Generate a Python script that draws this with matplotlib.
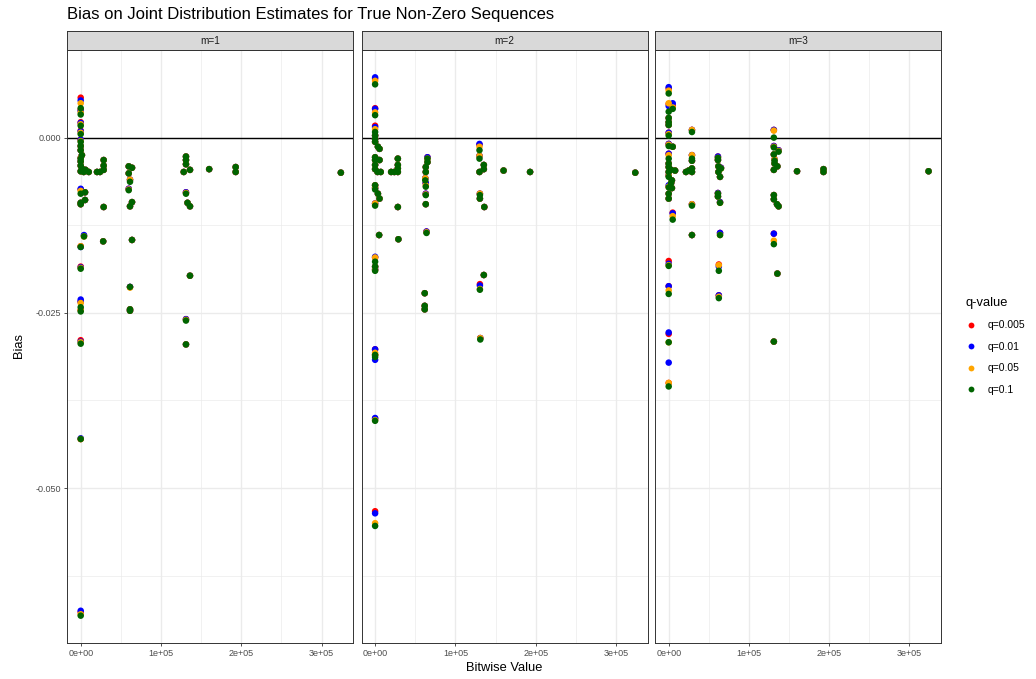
import numpy as np
import matplotlib.pyplot as plt
from matplotlib.lines import Line2D

plt.rcParams['font.family'] = ['Liberation Sans', 'DejaVu Sans']

title = 'Bias on Joint Distribution Estimates for True Non-Zero Sequences'
panels = ['m=1', 'm=2', 'm=3']
q_labels = ['q=0.005', 'q=0.01', 'q=0.05', 'q=0.1']
q_colors = ['red', 'blue', 'orange', 'darkgreen']

x_ticks = [0, 100000, 200000, 300000]
x_ticklabels = ['0e+00', '1e+05', '2e+05', '3e+05']
y_ticks = [0.0, -0.025, -0.05]
y_ticklabels = ['0.000', '-0.025', '-0.050']

# rows: (bitwise value, bias q=0.005, q=0.01, q=0.05, q=0.1)
m1_rows = [
    (0, 0.0057, 0.0053, 0.0049, 0.0042),
    (0, 0.0040, 0.0038, 0.0036, 0.0033),
    (0, 0.0022, 0.0021, 0.0019, 0.0017),
    (0, 0.0010, 0.0009, 0.0007, 0.0005),
    (0, -0.0003, -0.0003, -0.0005, -0.0006),
    (0, -0.0012, -0.0012, -0.0012, -0.0012),
    (0, -0.0018, -0.0018, -0.0018, -0.0018),
    (1500, -0.0025, -0.0025, -0.0025, -0.0025),
    (0, -0.0029, -0.0029, -0.0029, -0.0030),
    (0, -0.0034, -0.0034, -0.0034, -0.0034),
    (0, -0.0040, -0.0040, -0.0040, -0.0040),
    (1500, -0.0044, -0.0044, -0.0044, -0.0044),
    (0, -0.0048, -0.0048, -0.0048, -0.0048),
    (3700, -0.0049, -0.0049, -0.0049, -0.0049),
    (10000, -0.0049, -0.0049, -0.0049, -0.0049),
    (6000, -0.0046, -0.0046, -0.0046, -0.0046),
    (0, -0.0074, -0.0073, -0.0076, -0.0080),
    (5400, -0.0078, -0.0078, -0.0078, -0.0078),
    (5400, -0.0089, -0.0089, -0.0089, -0.0089),
    (0, -0.0093, -0.0093, -0.0093, -0.0093),
    (0, -0.0095, -0.0095, -0.0095, -0.0095),
    (4100, -0.0140, -0.0139, -0.0141, -0.0141),
    (0, -0.0155, -0.0156, -0.0155, -0.0156),
    (0, -0.0184, -0.0185, -0.0186, -0.0187),
    (0, -0.0234, -0.0231, -0.0236, -0.0242),
    (0, -0.0246, -0.0234, -0.0246, -0.0248),
    (0, -0.0289, -0.0291, -0.0292, -0.0294),
    (0, -0.0430, -0.0429, -0.0430, -0.0430),
    (0, -0.0677, -0.0675, -0.0680, -0.0682),
    (28600, -0.0032, -0.0032, -0.0032, -0.0032),
    (28600, -0.0040, -0.0040, -0.0040, -0.0040),
    (28600, -0.0046, -0.0046, -0.0046, -0.0046),
    (24000, -0.0049, -0.0049, -0.0049, -0.0049),
    (20300, -0.0049, -0.0049, -0.0049, -0.0049),
    (28600, -0.0099, -0.0099, -0.0099, -0.0099),
    (28000, -0.0148, -0.0148, -0.0148, -0.0148),
    (59800, -0.0041, -0.0041, -0.0041, -0.0041),
    (63900, -0.0043, -0.0043, -0.0043, -0.0043),
    (59800, -0.0051, -0.0051, -0.0051, -0.0051),
    (61400, -0.0060, -0.0060, -0.0060, -0.0063),
    (59800, -0.0073, -0.0073, -0.0074, -0.0075),
    (63900, -0.0092, -0.0092, -0.0092, -0.0092),
    (61400, -0.0098, -0.0098, -0.0098, -0.0098),
    (63900, -0.0146, -0.0146, -0.0146, -0.0146),
    (61400, -0.0213, -0.0213, -0.0214, -0.0213),
    (61400, -0.0245, -0.0245, -0.0245, -0.0245),
    (61400, -0.0247, -0.0247, -0.0247, -0.0247),
    (131100, -0.0027, -0.0027, -0.0027, -0.0027),
    (131100, -0.0032, -0.0032, -0.0032, -0.0032),
    (131100, -0.0038, -0.0038, -0.0038, -0.0038),
    (136100, -0.0046, -0.0046, -0.0046, -0.0046),
    (128300, -0.0049, -0.0049, -0.0049, -0.0049),
    (131100, -0.0078, -0.0078, -0.0079, -0.0080),
    (133000, -0.0093, -0.0093, -0.0093, -0.0093),
    (136100, -0.0098, -0.0098, -0.0098, -0.0098),
    (136100, -0.0197, -0.0197, -0.0197, -0.0197),
    (131100, -0.0259, -0.0259, -0.0260, -0.0261),
    (131100, -0.0295, -0.0295, -0.0295, -0.0295),
    (160000, -0.0045, -0.0045, -0.0045, -0.0045),
    (193000, -0.0042, -0.0042, -0.0042, -0.0042),
    (193000, -0.0049, -0.0049, -0.0049, -0.0049),
    (324000, -0.0050, -0.0050, -0.0050, -0.0050),
]

m2_rows = [
    (0, 0.0084, 0.0086, 0.0081, 0.0076),
    (0, 0.0042, 0.0041, 0.0036, 0.0032),
    (0, 0.0017, 0.0015, 0.0012, 0.0008),
    (0, 0.0003, 0.0003, 0.0003, 0.0003),
    (0, -0.0002, -0.0002, -0.0002, -0.0002),
    (0, -0.0006, -0.0006, -0.0006, -0.0006),
    (3500, -0.0013, -0.0013, -0.0013, -0.0013),
    (5500, -0.0016, -0.0016, -0.0016, -0.0016),
    (0, -0.0028, -0.0028, -0.0028, -0.0028),
    (0, -0.0032, -0.0032, -0.0032, -0.0032),
    (5500, -0.0032, -0.0032, -0.0032, -0.0032),
    (0, -0.0039, -0.0039, -0.0039, -0.0039),
    (0, -0.0045, -0.0045, -0.0045, -0.0045),
    (3000, -0.0049, -0.0049, -0.0049, -0.0049),
    (7000, -0.0049, -0.0049, -0.0049, -0.0049),
    (0, -0.0068, -0.0068, -0.0068, -0.0068),
    (0, -0.0072, -0.0072, -0.0071, -0.0074),
    (3500, -0.0080, -0.0080, -0.0080, -0.0080),
    (5500, -0.0087, -0.0087, -0.0087, -0.0087),
    (0, -0.0094, -0.0094, -0.0094, -0.0097),
    (5000, -0.0139, -0.0139, -0.0139, -0.0139),
    (0, -0.0171, -0.0170, -0.0171, -0.0177),
    (0, -0.0184, -0.0184, -0.0184, -0.0184),
    (0, -0.0188, -0.0188, -0.0189, -0.0190),
    (0, -0.0302, -0.0302, -0.0307, -0.0313),
    (0, -0.0310, -0.0317, -0.0310, -0.0310),
    (0, -0.0401, -0.0400, -0.0403, -0.0404),
    (0, -0.0533, -0.0536, -0.0550, -0.0554),
    (28300, -0.0030, -0.0030, -0.0030, -0.0030),
    (28300, -0.0039, -0.0039, -0.0039, -0.0039),
    (28300, -0.0044, -0.0044, -0.0044, -0.0044),
    (20000, -0.0049, -0.0049, -0.0049, -0.0049),
    (24000, -0.0049, -0.0049, -0.0049, -0.0049),
    (28300, -0.0049, -0.0049, -0.0049, -0.0049),
    (28300, -0.0099, -0.0099, -0.0099, -0.0099),
    (29000, -0.0145, -0.0145, -0.0145, -0.0145),
    (65200, -0.0028, -0.0028, -0.0030, -0.0030),
    (65200, -0.0035, -0.0035, -0.0035, -0.0035),
    (63100, -0.0042, -0.0042, -0.0042, -0.0042),
    (63100, -0.0049, -0.0049, -0.0049, -0.0049),
    (62500, -0.0058, -0.0058, -0.0058, -0.0061),
    (63100, -0.0065, -0.0065, -0.0068, -0.0070),
    (63100, -0.0080, -0.0080, -0.0081, -0.0082),
    (63100, -0.0095, -0.0095, -0.0095, -0.0095),
    (64000, -0.0134, -0.0134, -0.0135, -0.0136),
    (61800, -0.0222, -0.0222, -0.0222, -0.0222),
    (61800, -0.0240, -0.0240, -0.0240, -0.0240),
    (61800, -0.0245, -0.0245, -0.0245, -0.0245),
    (130000, -0.0010, -0.0009, -0.0013, -0.0018),
    (130000, -0.0026, -0.0026, -0.0026, -0.0030),
    (135400, -0.0039, -0.0039, -0.0039, -0.0039),
    (135400, -0.0045, -0.0045, -0.0045, -0.0045),
    (130000, -0.0049, -0.0049, -0.0049, -0.0049),
    (130500, -0.0080, -0.0080, -0.0080, -0.0082),
    (130500, -0.0087, -0.0087, -0.0087, -0.0087),
    (136000, -0.0099, -0.0099, -0.0099, -0.0099),
    (135400, -0.0196, -0.0196, -0.0196, -0.0196),
    (130500, -0.0209, -0.0211, -0.0216, -0.0217),
    (131000, -0.0286, -0.0286, -0.0286, -0.0288),
    (160000, -0.0047, -0.0047, -0.0047, -0.0047),
    (193000, -0.0049, -0.0049, -0.0049, -0.0049),
    (324000, -0.0050, -0.0050, -0.0050, -0.0050),
]

m3_rows = [
    (0, 0.0070, 0.0072, 0.0067, 0.0063),
    (0, 0.0048, 0.0045, 0.0049, 0.0037),
    (5000, 0.0046, 0.0049, 0.0043, 0.0041),
    (0, 0.0028, 0.0028, 0.0028, 0.0028),
    (0, 0.0022, 0.0022, 0.0022, 0.0022),
    (0, 0.0018, 0.0018, 0.0018, 0.0018),
    (0, 0.0007, 0.0007, 0.0005, 0.0003),
    (0, -0.0009, -0.0009, -0.0010, -0.0012),
    (5000, -0.0013, -0.0013, -0.0013, -0.0013),
    (0, -0.0023, -0.0023, -0.0025, -0.0030),
    (0, -0.0037, -0.0037, -0.0037, -0.0037),
    (0, -0.0042, -0.0042, -0.0042, -0.0042),
    (3000, -0.0046, -0.0046, -0.0046, -0.0046),
    (8000, -0.0047, -0.0047, -0.0047, -0.0047),
    (0, -0.0049, -0.0049, -0.0049, -0.0049),
    (0, -0.0054, -0.0054, -0.0054, -0.0056),
    (4000, -0.0061, -0.0061, -0.0061, -0.0061),
    (3000, -0.0065, -0.0065, -0.0065, -0.0065),
    (0, -0.0070, -0.0068, -0.0070, -0.0071),
    (4000, -0.0072, -0.0072, -0.0072, -0.0072),
    (0, -0.0080, -0.0080, -0.0080, -0.0080),
    (0, -0.0087, -0.0087, -0.0087, -0.0087),
    (5000, -0.0107, -0.0108, -0.0112, -0.0117),
    (0, -0.0176, -0.0180, -0.0182, -0.0183),
    (0, -0.0212, -0.0212, -0.0218, -0.0223),
    (0, -0.0280, -0.0278, -0.0292, -0.0292),
    (0, -0.0350, -0.0321, -0.0350, -0.0355),
    (29000, 0.0011, 0.0011, 0.0011, 0.0008),
    (29000, -0.0025, -0.0025, -0.0025, -0.0030),
    (29000, -0.0033, -0.0033, -0.0033, -0.0033),
    (29000, -0.0044, -0.0044, -0.0044, -0.0044),
    (29000, -0.0049, -0.0049, -0.0049, -0.0049),
    (21500, -0.0049, -0.0049, -0.0049, -0.0049),
    (25000, -0.0047, -0.0047, -0.0047, -0.0047),
    (29000, -0.0095, -0.0095, -0.0095, -0.0097),
    (29000, -0.0139, -0.0139, -0.0139, -0.0139),
    (61400, -0.0027, -0.0027, -0.0029, -0.0029),
    (61400, -0.0032, -0.0032, -0.0032, -0.0032),
    (62000, -0.0041, -0.0041, -0.0041, -0.0041),
    (65200, -0.0043, -0.0043, -0.0044, -0.0044),
    (62000, -0.0049, -0.0049, -0.0049, -0.0049),
    (64000, -0.0056, -0.0056, -0.0056, -0.0056),
    (61400, -0.0079, -0.0079, -0.0080, -0.0080),
    (61400, -0.0084, -0.0084, -0.0084, -0.0084),
    (64000, -0.0092, -0.0092, -0.0093, -0.0093),
    (64000, -0.0136, -0.0136, -0.0139, -0.0139),
    (62500, -0.0181, -0.0184, -0.0182, -0.0190),
    (62500, -0.0225, -0.0225, -0.0227, -0.0229),
    (131100, 0.0011, 0.0011, 0.0010, 0.0000),
    (131100, -0.0012, -0.0012, -0.0013, -0.0014),
    (137000, -0.0018, -0.0018, -0.0019, -0.0020),
    (131100, -0.0024, -0.0024, -0.0024, -0.0024),
    (132000, -0.0031, -0.0031, -0.0031, -0.0033),
    (132000, -0.0037, -0.0037, -0.0037, -0.0037),
    (135500, -0.0041, -0.0041, -0.0041, -0.0041),
    (131100, -0.0046, -0.0046, -0.0046, -0.0046),
    (131100, -0.0082, -0.0082, -0.0082, -0.0082),
    (131100, -0.0088, -0.0088, -0.0088, -0.0088),
    (135000, -0.0095, -0.0095, -0.0095, -0.0095),
    (137000, -0.0098, -0.0098, -0.0098, -0.0098),
    (131100, -0.0137, -0.0137, -0.0147, -0.0152),
    (135500, -0.0194, -0.0194, -0.0194, -0.0194),
    (131100, -0.0291, -0.0291, -0.0291, -0.0291),
    (160000, -0.0048, -0.0048, -0.0048, -0.0048),
    (193000, -0.0045, -0.0045, -0.0045, -0.0045),
    (193000, -0.0049, -0.0049, -0.0049, -0.0049),
    (324000, -0.0048, -0.0048, -0.0048, -0.0048),
]

all_rows = [m1_rows, m2_rows, m3_rows]

W, H = 1036, 679
fig = plt.figure(figsize=(W / 100, H / 100), dpi=100)

# panel boxes in pixels (left, right)
panel_lr = [(67.3, 353.3), (361.7, 647.7), (655.3, 941.0)]
p_top, p_bot = 50, 643
strip_top = 31

for i, (name, rows) in enumerate(zip(panels, all_rows)):
    l, r = panel_lr[i]
    ax = fig.add_axes([l / W, 1 - p_bot / H, (r - l) / W, (p_bot - p_top) / H])
    data = np.array(rows)
    for k in range(4):
        ax.scatter(data[:, 0], data[:, k + 1], s=22, color=q_colors[k],
                   edgecolors='none', zorder=3)
    ax.axhline(0, color='black', lw=1.0, zorder=2)

    ax.set_xlim(-16700, 339500)
    ax.set_ylim(-0.0721, 0.01245)
    ax.set_xticks(x_ticks)
    ax.set_xticklabels(x_ticklabels)
    ax.set_xticks([50000, 150000, 250000], minor=True)
    ax.set_yticks(y_ticks)
    ax.set_yticks([0.0125, -0.0125, -0.0375, -0.0625], minor=True)
    ax.grid(which='major', color='#EBEBEB', lw=1.0, zorder=0)
    ax.grid(which='minor', color='#EBEBEB', lw=0.5, zorder=0)
    ax.set_axisbelow(True)
    ax.tick_params(which='minor', length=0)
    ax.tick_params(which='major', length=2.5, width=0.6, color='#333333',
                   labelsize=6.5, labelcolor='#4D4D4D', pad=2)
    if i == 0:
        ax.set_yticklabels(y_ticklabels)
    else:
        ax.tick_params(axis='y', length=0, labelleft=False)
    for sp in ax.spines.values():
        sp.set_color('#333333')
        sp.set_linewidth(0.7)

    # facet strip
    sax = fig.add_axes([l / W, 1 - p_top / H, (r - l) / W, (p_top - strip_top) / H])
    sax.set_facecolor('#D9D9D9')
    sax.set_xticks([])
    sax.set_yticks([])
    for sp in sax.spines.values():
        sp.set_color('#333333')
        sp.set_linewidth(0.7)
    sax.text(0.5, 0.5, name, ha='center', va='center', fontsize=7.2,
             color='#1A1A1A', transform=sax.transAxes)

fig.text(67 / W, 1 - 15 / H, title, ha='left', va='center', fontsize=12)
fig.text(504 / W, 1 - 668 / H, 'Bitwise Value', ha='center', va='center', fontsize=9.3)
fig.text(19 / W, 1 - 346 / H, 'Bias', ha='center', va='center', fontsize=9.3,
         rotation=90)

handles = [Line2D([], [], marker='o', ls='none', color=c, markersize=4.2,
                  markeredgewidth=0) for c in q_colors]
fig.legend(handles, q_labels, title='q-value', loc='upper left',
           bbox_to_anchor=(966 / W, 1 - 297 / H), frameon=False, fontsize=7.5,
           title_fontsize=9.3, labelspacing=1.1, handlelength=1.0,
           handletextpad=1.1, borderpad=0, borderaxespad=0, alignment='left')

fig.savefig('out.png', dpi=100)
